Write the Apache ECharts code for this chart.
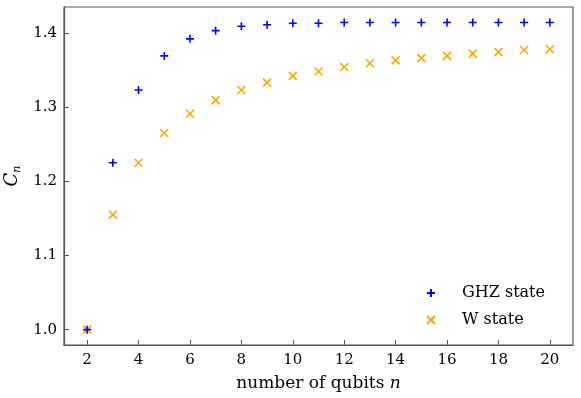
<!DOCTYPE html>
<html><head><meta charset="utf-8">
<script src="https://cdn.jsdelivr.net/npm/echarts@6/dist/echarts.min.js"></script>
<style>html,body{margin:0;padding:0;background:#fff}#c{width:581px;height:398px}</style>
</head><body><div id="c"></div>
<script>
const qubits = [2,3,4,5,6,7,8,9,10,11,12,13,14,15,16,17,18,19,20];
const ghz = [1.000,1.225,1.323,1.369,1.392,1.403,1.409,1.411,1.413,1.413,1.414,1.414,1.414,1.414,1.414,1.414,1.414,1.414,1.414];
const wstate = [1.000,1.155,1.225,1.265,1.291,1.309,1.323,1.333,1.342,1.348,1.354,1.359,1.363,1.366,1.369,1.372,1.374,1.377,1.378];
const xTicks = [2,4,6,8,10,12,14,16,18,20];
const yTicks = [1.0,1.1,1.2,1.3,1.4];

const plusPath = 'path://M5,0V10M0,5H10';
const crossPath = 'path://M0,0L10,10M10,0L0,10';
const serif = 'DejaVu Serif';
const chart = echarts.init(document.getElementById('c'), null, {renderer:'canvas'});
const axisCol = '#555';
chart.setOption({
  animation:false,
  grid:{left:64,right:8,top:7,bottom:53,show:true,borderColor:axisCol,borderWidth:1.2,containLabel:false,outerBoundsMode:'none'},
  legend:{
    orient:'vertical', left:421, top:280, itemGap:11, itemWidth:12, itemHeight:8,
    textStyle:{fontFamily:serif,fontSize:16,color:'#000',padding:[0,0,0,20]},
    itemStyle:{opacity:1},
    data:[{name:'GHZ state',icon:plusPath},{name:'W state',icon:crossPath}]
  },
  xAxis:{
    type:'value', min:1.1, max:20.9,
    axisLine:{show:true,lineStyle:{color:axisCol,width:1.2}},
    splitLine:{show:false},
    axisTick:{show:true,inside:true,length:5,customValues:xTicks,lineStyle:{color:axisCol}},
    axisLabel:{customValues:xTicks,fontFamily:serif,fontSize:15,color:'#000',margin:8},
    name:'{a|number of qubits }{b|n}', nameLocation:'middle', nameGap:30,
    nameTextStyle:{rich:{a:{fontFamily:serif,fontSize:17,color:'#000'},b:{fontFamily:serif,fontStyle:'italic',fontSize:17,color:'#000'}}}
  },
  yAxis:{
    type:'value', min:0.9793, max:1.4349,
    axisLine:{show:true,lineStyle:{color:axisCol,width:1.2}},
    splitLine:{show:false},
    axisTick:{show:true,inside:true,length:5,customValues:yTicks,lineStyle:{color:axisCol}},
    axisLabel:{customValues:yTicks,fontFamily:serif,fontSize:15,color:'#000',margin:7,formatter:v=>v.toFixed(1)},
    name:'{a|C}{b|n}', nameLocation:'middle', nameGap:38, nameRotate:90,
    nameTextStyle:{rich:{a:{fontFamily:serif,fontStyle:'italic',fontSize:18,color:'#000'},b:{fontFamily:serif,fontStyle:'italic',fontSize:11,color:'#000',verticalAlign:'bottom',padding:[8,0,0,0]}}}
  },
  series:[
    {name:'GHZ state',type:'scatter',data:qubits.map((q,i)=>[q,ghz[i]]),symbol:plusPath,symbolSize:8,
     itemStyle:{opacity:1,color:'rgba(0,0,0,0)',borderColor:'#0000ff',borderWidth:1.6},z:3},
    {name:'W state',type:'scatter',data:qubits.map((q,i)=>[q,wstate[i]]),symbol:crossPath,symbolSize:8,
     itemStyle:{opacity:1,color:'rgba(0,0,0,0)',borderColor:'#ffa500',borderWidth:1.6},z:2}
  ]
});
</script></body></html>
